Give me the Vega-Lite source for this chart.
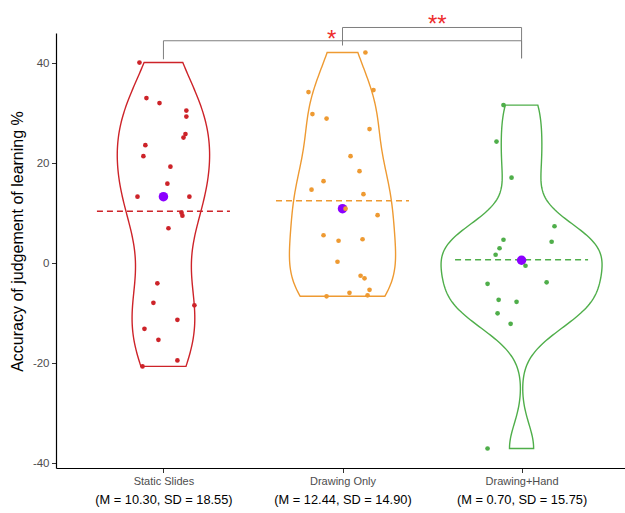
{
  "$schema": "https://vega.github.io/schema/vega-lite/v6.json",
  "width": 568,
  "height": 435,
  "autosize": {"type": "none"},
  "padding": {"left": 56, "top": 33, "right": 1, "bottom": 45},
  "config": {"view": {"stroke": null}, "font": "Liberation Sans"},
  "datasets": {
    "points": [
      {"group": "Static Slides", "value": 40.1, "jitter": -0.134},
      {"group": "Static Slides", "value": 33.0, "jitter": -0.095},
      {"group": "Static Slides", "value": 32.0, "jitter": -0.022},
      {"group": "Static Slides", "value": 30.5, "jitter": 0.128},
      {"group": "Static Slides", "value": 29.3, "jitter": 0.128},
      {"group": "Static Slides", "value": 25.8, "jitter": 0.123},
      {"group": "Static Slides", "value": 25.1, "jitter": 0.112},
      {"group": "Static Slides", "value": 23.6, "jitter": -0.101},
      {"group": "Static Slides", "value": 21.4, "jitter": -0.112},
      {"group": "Static Slides", "value": 19.3, "jitter": 0.039},
      {"group": "Static Slides", "value": 15.9, "jitter": 0.022},
      {"group": "Static Slides", "value": 13.3, "jitter": -0.145},
      {"group": "Static Slides", "value": 13.3, "jitter": 0.145},
      {"group": "Static Slides", "value": 10.1, "jitter": 0.101},
      {"group": "Static Slides", "value": 9.5, "jitter": 0.106},
      {"group": "Static Slides", "value": 7.0, "jitter": 0.028},
      {"group": "Static Slides", "value": -4.0, "jitter": -0.034},
      {"group": "Static Slides", "value": -7.9, "jitter": -0.056},
      {"group": "Static Slides", "value": -8.4, "jitter": 0.173},
      {"group": "Static Slides", "value": -11.3, "jitter": 0.078},
      {"group": "Static Slides", "value": -13.1, "jitter": -0.106},
      {"group": "Static Slides", "value": -15.3, "jitter": -0.028},
      {"group": "Static Slides", "value": -19.4, "jitter": 0.078},
      {"group": "Static Slides", "value": -20.6, "jitter": -0.117},
      {"group": "Drawing Only", "value": 42.1, "jitter": 0.128},
      {"group": "Drawing Only", "value": 34.2, "jitter": -0.19},
      {"group": "Drawing Only", "value": 34.6, "jitter": 0.173},
      {"group": "Drawing Only", "value": 29.8, "jitter": -0.168},
      {"group": "Drawing Only", "value": 28.9, "jitter": -0.089},
      {"group": "Drawing Only", "value": 26.8, "jitter": 0.151},
      {"group": "Drawing Only", "value": 21.4, "jitter": 0.045},
      {"group": "Drawing Only", "value": 18.4, "jitter": 0.095},
      {"group": "Drawing Only", "value": 16.4, "jitter": -0.106},
      {"group": "Drawing Only", "value": 14.7, "jitter": -0.173},
      {"group": "Drawing Only", "value": 13.8, "jitter": 0.117},
      {"group": "Drawing Only", "value": 10.9, "jitter": 0.017},
      {"group": "Drawing Only", "value": 9.6, "jitter": 0.196},
      {"group": "Drawing Only", "value": 5.6, "jitter": -0.106},
      {"group": "Drawing Only", "value": 4.5, "jitter": -0.022},
      {"group": "Drawing Only", "value": 4.8, "jitter": 0.112},
      {"group": "Drawing Only", "value": 0.3, "jitter": -0.028},
      {"group": "Drawing Only", "value": -2.5, "jitter": 0.101},
      {"group": "Drawing Only", "value": -3.0, "jitter": 0.123},
      {"group": "Drawing Only", "value": -5.3, "jitter": 0.151},
      {"group": "Drawing Only", "value": -5.9, "jitter": 0.039},
      {"group": "Drawing Only", "value": -6.4, "jitter": 0.14},
      {"group": "Drawing Only", "value": -6.6, "jitter": -0.089},
      {"group": "Drawing+Hand", "value": 31.6, "jitter": -0.101},
      {"group": "Drawing+Hand", "value": 24.3, "jitter": -0.14},
      {"group": "Drawing+Hand", "value": 17.1, "jitter": -0.056},
      {"group": "Drawing+Hand", "value": 7.4, "jitter": 0.184},
      {"group": "Drawing+Hand", "value": 4.3, "jitter": 0.168},
      {"group": "Drawing+Hand", "value": 4.7, "jitter": -0.101},
      {"group": "Drawing+Hand", "value": 3.0, "jitter": -0.123},
      {"group": "Drawing+Hand", "value": 1.7, "jitter": -0.145},
      {"group": "Drawing+Hand", "value": -0.5, "jitter": 0.022},
      {"group": "Drawing+Hand", "value": -4.1, "jitter": -0.19},
      {"group": "Drawing+Hand", "value": -3.8, "jitter": 0.14},
      {"group": "Drawing+Hand", "value": -7.3, "jitter": -0.128},
      {"group": "Drawing+Hand", "value": -7.7, "jitter": -0.028},
      {"group": "Drawing+Hand", "value": -10.0, "jitter": -0.134},
      {"group": "Drawing+Hand", "value": -12.1, "jitter": -0.061},
      {"group": "Drawing+Hand", "value": -37.0, "jitter": -0.19}
    ],
    "brackets": [
      {"g1": "Static Slides", "g2": "Drawing+Hand", "y": 44.45, "tip1": 40.75, "tip2": 40.9, "label": "*", "label_at": "Drawing Only", "label_offset": -0.06, "label_y": 43.2},
      {"g1": "Drawing Only", "g2": "Drawing+Hand", "y": 47.1, "tip1": 43.5, "tip2": 41.0, "label": "**", "label_at": "Drawing Only", "label_offset": 0.53, "label_y": 46.2}
    ]
  },
  "resolve": {"scale": {"xOffset": "independent"}, "axis": {"x": "independent"}},
  "layer": [
    {
      "layer": [
        {
          "data": {"name": "points"},
          "transform": [
            {"filter": {"field": "group", "equal": "Static Slides"}},
            {"density": "value", "groupby": ["group"], "bandwidth": 8.84, "extent": [-20.6, 40.1], "steps": 200, "as": ["value", "density"]},
            {"calculate": "-datum.density", "as": "neg"},
            {"fold": ["density", "neg"], "as": ["side", "off"]},
            {"calculate": "datum.side === 'density' ? datum.value : 1000 - datum.value", "as": "ord"}
          ],
          "mark": {"type": "line", "interpolate": "linear-closed", "strokeWidth": 1.4},
          "encoding": {
            "x": {"field": "group", "type": "nominal", "scale": {"type": "point", "padding": 0.6, "domain": ["Static Slides", "Drawing Only", "Drawing+Hand"], "range": [0, 573]}, "axis": null},
            "xOffset": {"field": "off", "type": "quantitative", "scale": {"type": "linear", "zero": false, "nice": false, "range": [-80.5, 80.5]}},
            "y": {"field": "value", "type": "quantitative", "scale": {"domain": [-40.9, 46.0], "nice": false, "zero": false},
              "axis": {"values": [-40, -20, 0, 20, 40], "labelExpr": "'' + datum.value", "grid": false,
                "title": "Accuracy of judgement of learning %", "titleFontSize": 16, "titleFontWeight": "normal", "titleColor": "black",
                "titleX": -39, "titleY": 208, "titleAngle": -90, "titleAlign": "center", "titleBaseline": "middle",
                "labelFontSize": 11.5, "labelColor": "#4D4D4D", "labelPadding": 2.5, "tickSize": 4.5, "tickColor": "#333333",
                "domainColor": "black", "domainWidth": 1.2}},
            "color": {"field": "group", "type": "nominal", "scale": {"domain": ["Static Slides", "Drawing Only", "Drawing+Hand"], "range": ["#CD2329", "#EE9A32", "#4FAE4A"]}, "legend": null},
            "order": {"field": "ord", "type": "quantitative"}
          }
        },
        {
          "data": {"name": "points"},
          "transform": [
            {"filter": {"field": "group", "equal": "Drawing Only"}},
            {"density": "value", "groupby": ["group"], "bandwidth": 7.16, "extent": [-6.6, 42.1], "steps": 200, "as": ["value", "density"]},
            {"calculate": "-datum.density", "as": "neg"},
            {"fold": ["density", "neg"], "as": ["side", "off"]},
            {"calculate": "datum.side === 'density' ? datum.value : 1000 - datum.value", "as": "ord"}
          ],
          "mark": {"type": "line", "interpolate": "linear-closed", "strokeWidth": 1.4},
          "encoding": {
            "x": {"field": "group", "type": "nominal", "scale": {"type": "point", "padding": 0.6, "domain": ["Static Slides", "Drawing Only", "Drawing+Hand"], "range": [0, 573]}, "axis": null},
            "xOffset": {"field": "off", "type": "quantitative", "scale": {"type": "linear", "zero": false, "nice": false, "range": [-80.5, 80.5]}},
            "y": {"field": "value", "type": "quantitative", "scale": {"domain": [-40.9, 46.0], "nice": false, "zero": false}},
            "color": {"field": "group", "type": "nominal", "legend": null},
            "order": {"field": "ord", "type": "quantitative"}
          }
        },
        {
          "data": {"name": "points"},
          "transform": [
            {"filter": {"field": "group", "equal": "Drawing+Hand"}},
            {"density": "value", "groupby": ["group"], "bandwidth": 4.93, "extent": [-37.0, 31.6], "steps": 200, "as": ["value", "density"]},
            {"calculate": "-datum.density", "as": "neg"},
            {"fold": ["density", "neg"], "as": ["side", "off"]},
            {"calculate": "datum.side === 'density' ? datum.value : 1000 - datum.value", "as": "ord"}
          ],
          "mark": {"type": "line", "interpolate": "linear-closed", "strokeWidth": 1.4},
          "encoding": {
            "x": {"field": "group", "type": "nominal", "scale": {"type": "point", "padding": 0.6, "domain": ["Static Slides", "Drawing Only", "Drawing+Hand"], "range": [0, 573]}, "axis": null},
            "xOffset": {"field": "off", "type": "quantitative", "scale": {"type": "linear", "zero": false, "nice": false, "range": [-80.5, 80.5]}},
            "y": {"field": "value", "type": "quantitative", "scale": {"domain": [-40.9, 46.0], "nice": false, "zero": false}},
            "color": {"field": "group", "type": "nominal", "legend": null},
            "order": {"field": "ord", "type": "quantitative"}
          }
        }
      ]
    },
    {
      "data": {"name": "points"},
      "mark": {"type": "tick", "size": 133, "thickness": 0, "filled": false, "strokeWidth": 1.5, "strokeDash": [6, 4]},
      "encoding": {
        "x": {"field": "group", "type": "nominal", "scale": {"type": "point", "padding": 0.6, "domain": ["Static Slides", "Drawing Only", "Drawing+Hand"], "range": [0, 573]},
          "axis": {"orient": "bottom", "title": null, "labelAngle": 0, "labelFontSize": 11, "labelColor": "#4D4D4D", "labelPadding": 3, "tickSize": 4.5, "tickColor": "#333333", "domainColor": "black", "domainWidth": 1.2}},
        "y": {"field": "value", "type": "quantitative", "aggregate": "mean", "scale": {"domain": [-40.9, 46.0], "nice": false, "zero": false}},
        "color": {"field": "group", "type": "nominal", "legend": null}
      }
    },
    {
      "data": {"name": "points"},
      "mark": {"type": "circle", "size": 90, "opacity": 1, "color": "#8B00FF"},
      "encoding": {
        "x": {"field": "group", "type": "nominal", "scale": {"type": "point", "padding": 0.6, "domain": ["Static Slides", "Drawing Only", "Drawing+Hand"], "range": [0, 573]},
          "axis": {"orient": "bottom", "title": null, "labelAngle": 0, "domain": false, "ticks": false, "tickSize": 0, "labelFontSize": 12.8, "labelColor": "black", "labelPadding": 25,
            "labelExpr": "datum.value === 'Static Slides' ? '(M = 10.30, SD = 18.55)' : datum.value === 'Drawing Only' ? '(M = 12.44, SD = 14.90)' : '(M = 0.70, SD = 15.75)'"}},
        "y": {"field": "value", "type": "quantitative", "aggregate": "median", "scale": {"domain": [-40.9, 46.0], "nice": false, "zero": false}}
      }
    },
    {
      "data": {"name": "points"},
      "mark": {"type": "circle", "size": 22, "opacity": 1},
      "encoding": {
        "x": {"field": "group", "type": "nominal", "scale": {"type": "point", "padding": 0.6, "domain": ["Static Slides", "Drawing Only", "Drawing+Hand"], "range": [0, 573]}, "axis": null},
        "xOffset": {"field": "jitter", "type": "quantitative", "scale": {"type": "linear", "domain": [-1, 1], "range": [-179, 179], "zero": false, "nice": false}},
        "y": {"field": "value", "type": "quantitative", "scale": {"domain": [-40.9, 46.0], "nice": false, "zero": false}},
        "color": {"field": "group", "type": "nominal", "legend": null}
      }
    },
    {
      "data": {"name": "brackets"},
      "mark": {"type": "rule", "color": "#7F7F7F", "strokeWidth": 1},
      "encoding": {
        "x": {"field": "g1", "type": "nominal", "scale": {"type": "point", "padding": 0.6, "domain": ["Static Slides", "Drawing Only", "Drawing+Hand"], "range": [0, 573]}, "axis": null},
        "x2": {"field": "g2"},
        "y": {"field": "y", "type": "quantitative", "scale": {"domain": [-40.9, 46.0], "nice": false, "zero": false}}
      }
    },
    {
      "data": {"name": "brackets"},
      "mark": {"type": "rule", "color": "#7F7F7F", "strokeWidth": 1},
      "encoding": {
        "x": {"field": "g1", "type": "nominal", "scale": {"type": "point", "padding": 0.6, "domain": ["Static Slides", "Drawing Only", "Drawing+Hand"], "range": [0, 573]}, "axis": null},
        "y": {"field": "y", "type": "quantitative", "scale": {"domain": [-40.9, 46.0], "nice": false, "zero": false}},
        "y2": {"field": "tip1"}
      }
    },
    {
      "data": {"name": "brackets"},
      "mark": {"type": "rule", "color": "#7F7F7F", "strokeWidth": 1},
      "encoding": {
        "x": {"field": "g2", "type": "nominal", "scale": {"type": "point", "padding": 0.6, "domain": ["Static Slides", "Drawing Only", "Drawing+Hand"], "range": [0, 573]}, "axis": null},
        "y": {"field": "y", "type": "quantitative", "scale": {"domain": [-40.9, 46.0], "nice": false, "zero": false}},
        "y2": {"field": "tip2"}
      }
    },
    {
      "data": {"name": "brackets"},
      "mark": {"type": "text", "color": "#EE2C2C", "fontSize": 24, "baseline": "alphabetic", "align": "center"},
      "encoding": {
        "x": {"field": "label_at", "type": "nominal", "scale": {"type": "point", "padding": 0.6, "domain": ["Static Slides", "Drawing Only", "Drawing+Hand"], "range": [0, 573]}, "axis": null},
        "xOffset": {"field": "label_offset", "type": "quantitative", "scale": {"type": "linear", "domain": [-1, 1], "range": [-179, 179], "zero": false, "nice": false}},
        "y": {"field": "label_y", "type": "quantitative", "scale": {"domain": [-40.9, 46.0], "nice": false, "zero": false}},
        "text": {"field": "label"}
      }
    }
  ]
}
